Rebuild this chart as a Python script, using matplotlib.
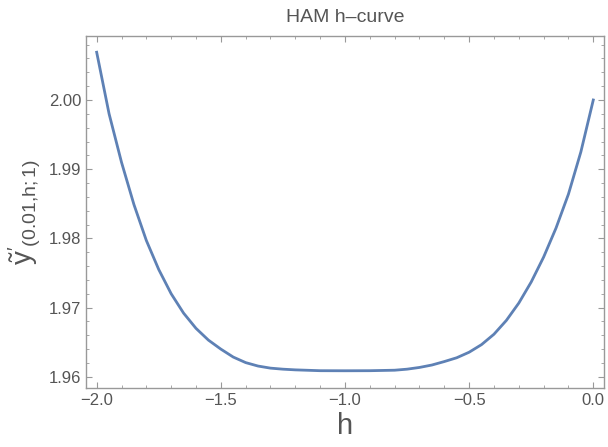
import matplotlib
matplotlib.use("Agg")
import matplotlib.pyplot as plt
from matplotlib.ticker import MultipleLocator

# values
h = [-2.0, -1.95, -1.9, -1.85, -1.8, -1.75, -1.7, -1.65, -1.6, -1.55, -1.5,
     -1.45, -1.4, -1.35, -1.3, -1.25, -1.2, -1.1, -1.0, -0.9, -0.8, -0.75,
     -0.7, -0.65, -0.6, -0.55, -0.5, -0.45, -0.4, -0.35, -0.3, -0.25, -0.2,
     -0.15, -0.1, -0.05, 0.0]
y = [2.0069, 1.9980, 1.9910, 1.9849, 1.9797, 1.9755, 1.9720, 1.9692, 1.9670,
     1.9653, 1.9640, 1.96285, 1.96205, 1.96155, 1.96125, 1.9611, 1.9610,
     1.96088, 1.96087, 1.96088, 1.96095, 1.9611, 1.96135, 1.9617, 1.9622,
     1.96275, 1.96355, 1.96465, 1.96615, 1.96815, 1.97065, 1.9737, 1.9773,
     1.9815, 1.9864, 1.9925, 2.0000]

xticks = [-2.0, -1.5, -1.0, -0.5, 0.0]
yticks = [1.96, 1.97, 1.98, 1.99, 2.00]

plt.rcParams['font.family'] = ['Liberation Sans', 'DejaVu Sans']
plt.rcParams['mathtext.fontset'] = 'custom'
plt.rcParams['mathtext.rm'] = 'Liberation Sans'
plt.rcParams['mathtext.it'] = 'Liberation Sans'

gray = '#555555'
frame = '#999999'

fig = plt.figure(figsize=(6.08, 4.47), dpi=100)
ax = fig.add_axes([0.1414, 0.132, 0.852, 0.7875])

ax.plot(h, y, color='#5E81B5', lw=2)

ax.set_xlim(-2.0431, 0.0431)
ax.set_ylim(1.95838, 2.00925)
ax.set_xticks(xticks)
ax.set_xticklabels(['\u22122.0', '\u22121.5', '\u22121.0', '\u22120.5', '0.0'])
ax.set_yticks(yticks)
ax.set_yticklabels([f'{v:.2f}' for v in yticks])
ax.xaxis.set_minor_locator(MultipleLocator(0.1))
ax.yaxis.set_minor_locator(MultipleLocator(0.002))

ax.tick_params(which='both', direction='in', top=True, right=True,
               color=frame, labelcolor=gray, labelsize=12)
ax.tick_params(which='major', length=4.5, width=0.8)
ax.tick_params(which='minor', length=2.5, width=0.6)
for s in ax.spines.values():
    s.set_color(frame)
    s.set_linewidth(1.0)

ax.set_title('HAM h\u2013curve', color=gray, fontsize=14, pad=10)
ax.set_xlabel('h', color=gray, fontsize=21, labelpad=3)
ax.set_ylabel(r'$\tilde{y}^{\prime}{}_{\mathrm{(0.01{,}h{;}1)}}$', color=gray,
              fontsize=20, labelpad=4)

fig.savefig('out.png', dpi=100)
